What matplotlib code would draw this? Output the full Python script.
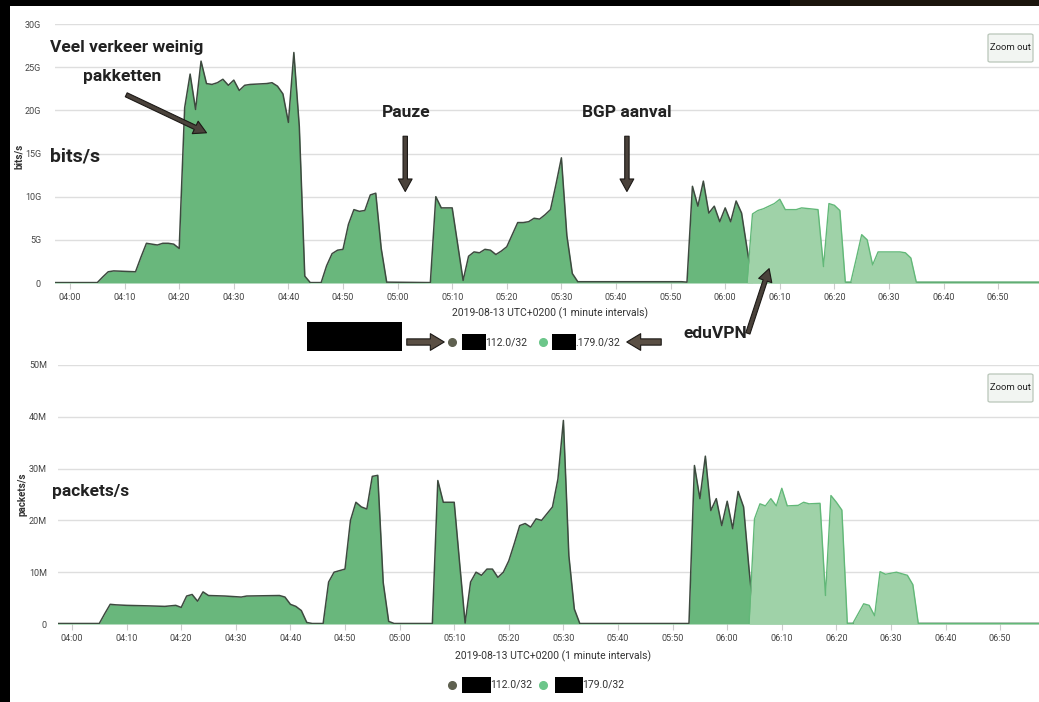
import numpy as np
import matplotlib
matplotlib.use("Agg")
import matplotlib.pyplot as plt
from matplotlib.patches import Rectangle, FancyBboxPatch, FancyArrowPatch
from matplotlib.lines import Line2D

tick_minutes = [0, 10, 20, 30, 40, 50, 60, 70, 80, 90, 100, 110, 120, 130, 140, 150, 160, 170]
tick_labels = ["04:00", "04:10", "04:20", "04:30", "04:40", "04:50", "05:00", "05:10", "05:20",
               "05:30", "05:40", "05:50", "06:00", "06:10", "06:20", "06:30", "06:40", "06:50"]

bits_ticks = [0, 5, 10, 15, 20, 25, 30]
bits_tick_labels = ["0", "5G", "10G", "15G", "20G", "25G", "30G"]
pkt_ticks = [0, 10, 20, 30, 40, 50]
pkt_tick_labels = ["0", "10M", "20M", "30M", "40M", "50M"]

# bits/s (G) - serie x.x.112.0/32
bits_dark_t = [-3, 5, 6, 7, 8, 12, 13, 14, 15, 16, 17, 18, 19, 20, 21, 22, 23, 24, 25, 26, 27,
               28, 29, 30, 31, 32, 33, 36, 37, 38, 39, 40, 41, 42, 43, 44, 46, 47, 48, 49, 50,
               51, 52, 53, 54, 55, 56, 57, 58, 66, 67, 68, 70, 71, 72, 73, 74, 75, 76, 77, 78,
               79, 80, 81, 82, 83, 84, 85, 86, 87, 88, 89, 90, 91, 92, 93, 112, 113, 114, 115,
               116, 117, 118, 119, 120, 121, 122, 123, 124, 125, 180]
bits_dark_v = [0.05, 0.05, 0.7, 1.3, 1.4, 1.3, 3.0, 4.6, 4.5, 4.4, 4.6, 4.6, 4.5, 4.0, 20.3, 24.2,
               20.1, 25.7, 23.1, 23.0, 23.2, 23.6, 22.9, 23.5, 22.3, 22.9, 23.0, 23.1, 23.2,
               22.8, 21.9, 18.6, 26.7, 18.1, 0.8, 0.05, 0.05, 2.0, 3.4, 3.8, 3.9, 6.8, 8.5, 8.3,
               8.4, 10.2, 10.4, 4.0, 0.1, 0.05, 10.0, 8.7, 8.7, 4.5, 0.3, 3.1, 3.6, 3.5, 3.9,
               3.8, 3.3, 3.7, 4.2, 5.6, 7.0, 7.0, 7.1, 7.5, 7.4, 7.9, 8.5, 11.4, 14.5, 5.5, 1.1,
               0.15, 0.15, 0.1, 11.2, 8.9, 11.8, 8.1, 8.9, 7.1, 8.7, 7.1, 9.5, 8.1, 4.0, 0.05, 0.05]

# bits/s (G) - serie x.x.179.0/32 (eduVPN)
bits_light_t = [124, 125, 126, 127, 128, 129, 130, 131, 133, 134, 137, 138, 139, 140, 141, 142,
                143, 144, 145, 146, 147, 148, 152, 153, 154, 155, 180]
bits_light_v = [0.05, 8.0, 8.4, 8.6, 8.9, 9.2, 9.7, 8.5, 8.5, 8.7, 8.5, 1.9, 9.2, 9.0, 8.4, 0.1,
                0.1, 2.8, 5.6, 5.0, 2.1, 3.6, 3.6, 3.5, 2.9, 0.1, 0.1]

# packets/s (M) - serie x.x.112.0/32
pkt_dark_t = [-3, 5, 6, 7, 8, 10, 14, 17, 19, 20, 21, 22, 23, 24, 25, 28, 31, 32, 38, 39, 40,
              41, 42, 43, 44, 46, 47, 48, 49, 50, 51, 52, 53, 54, 55, 56, 57, 58, 59, 66, 67,
              68, 70, 71, 72, 73, 74, 75, 76, 77, 78, 79, 80, 81, 82, 83, 84, 85, 86, 87, 88,
              89, 90, 91, 92, 93, 113, 114, 115, 116, 117, 118, 119, 120, 121, 122, 123, 124,
              125, 180]
pkt_dark_v = [0.1, 0.1, 2.0, 3.8, 3.7, 3.6, 3.5, 3.4, 3.6, 3.2, 5.4, 5.7, 4.4, 6.2, 5.5, 5.4,
              5.2, 5.4, 5.5, 5.2, 3.8, 3.4, 2.6, 0.3, 0.1, 0.1, 8.1, 10.0, 10.3, 10.6, 20.0,
              23.5, 22.6, 22.2, 28.5, 28.7, 8.0, 0.5, 0.1, 0.1, 27.7, 23.5, 23.5, 11.7, 0.2,
              8.1, 10.0, 9.4, 10.6, 10.6, 9.0, 10.0, 12.2, 15.5, 19.0, 19.4, 18.7, 20.3, 20.0,
              21.3, 22.6, 28.0, 39.3, 13.2, 2.9, 0.1, 0.1, 30.6, 24.2, 32.4, 21.9, 24.2, 19.0,
              23.7, 18.4, 25.6, 22.6, 10.6, 0.1, 0.1]

# packets/s (M) - serie x.x.179.0/32 (eduVPN)
pkt_light_t = [124, 125, 126, 127, 128, 129, 130, 131, 133, 134, 135, 137, 138, 139, 140, 141,
               142, 143, 144, 145, 146, 147, 148, 149, 151, 153, 154, 155, 180]
pkt_light_v = [0.1, 20.3, 23.2, 22.8, 24.2, 22.8, 26.2, 22.8, 22.9, 23.5, 23.2, 23.3, 5.5, 24.8,
               23.5, 22.0, 0.1, 0.1, 2.0, 3.9, 3.6, 1.6, 10.1, 9.6, 10.0, 9.4, 7.6, 0.1, 0.1]

W, H = 1039, 702
FONT = ["Roboto", "DejaVu Sans"]
plt.rcParams["font.family"] = FONT

DARK_FILL = "#69b77c"
DARK_LINE = "#3d4a3f"
LIGHT_FILL = "#9fd2a8"
LIGHT_LINE = "#62b878"
ARROW_FC = "#4a423b"
TXT = "#222222"


def fx(px):
    return px / W


def fy(py):
    return 1 - py / H


def draw_chart(ax, dark_t, dark_v, light_t, light_v, yticks, ylabels, ylim, ylabel):
    ax.fill_between(dark_t, dark_v, 0, color=DARK_FILL, lw=0, zorder=2)
    ax.plot(dark_t, dark_v, color=DARK_LINE, lw=1.1, zorder=3)
    ax.fill_between(light_t, light_v, 0, color=LIGHT_FILL, lw=0, zorder=4)
    ax.plot(light_t, light_v, color=LIGHT_LINE, lw=1.0, zorder=5)
    ax.set_ylim(*ylim)
    ax.set_yticks(yticks)
    ax.set_yticklabels(ylabels)
    ax.set_xticks(tick_minutes)
    ax.set_xticklabels(tick_labels)
    ax.grid(axis="y", color="#dedede", lw=1.0, zorder=0)
    for s in ax.spines.values():
        s.set_visible(False)
    ax.tick_params(axis="y", length=0, labelsize=6.5, labelcolor="#444444")
    ax.tick_params(axis="x", length=4, color="#cccccc", labelsize=6.5, labelcolor="#444444", pad=3)
    ax.set_ylabel(ylabel, fontsize=7, fontweight="bold", color="#333333")
    ax.set_facecolor("white")


fig = plt.figure(figsize=(W / 100, H / 100), dpi=100)
fig.patch.set_facecolor("white")

ax1 = fig.add_axes([fx(55), fy(283), 1 - fx(55), (283 - 24) / H])
ax1.set_xlim((55 - 70) / 5.46, (W - 70) / 5.46)
draw_chart(ax1, bits_dark_t, bits_dark_v, bits_light_t, bits_light_v,
           bits_ticks, bits_tick_labels, (0, 30), "bits/s")
ax1.tick_params(axis="y", pad=10)
ax1.yaxis.set_label_coords(-0.031, 0.49)

ax2 = fig.add_axes([fx(58), fy(624), 1 - fx(58), (624 - 365) / H])
ax2.set_xlim((58 - 72) / 5.46, (W - 72) / 5.46)
draw_chart(ax2, pkt_dark_t, pkt_dark_v, pkt_light_t, pkt_light_v,
           pkt_ticks, pkt_tick_labels, (0, 50), "packets/s")
ax2.tick_params(axis="y", pad=8)
ax2.yaxis.set_label_coords(-0.031, 0.5)

xlab = "2019-08-13 UTC+0200 (1 minute intervals)"
fig.text(fx(550), fy(313), xlab, ha="center", va="center", fontsize=7.5, color="#333333")
fig.text(fx(553), fy(656), xlab, ha="center", va="center", fontsize=7.5, color="#333333")

# ---- "Zoom out" knoppen ----
for top in (34, 374):
    fig.add_artist(FancyBboxPatch((fx(988), fy(top + 28)), fx(45), 28 / H,
                                  boxstyle="round,pad=0,rounding_size=0.002",
                                  fc="#f2f5f2", ec="#b9c6b9", lw=0.9, transform=fig.transFigure))
    fig.text(fx(1010.5), fy(top + 14), "Zoom out", ha="center", va="center",
             fontsize=6.8, color="#222222")

# ---- annotaties in de bovenste grafiek ----
big = dict(fontsize=12.5, fontweight="bold", color=TXT)
ax1.text(-3.7, 27.3, "Veel verkeer weinig", ha="left", va="center", clip_on=False, **big)
ax1.text(9.5, 23.9, "pakketten", ha="center", va="center", **big)
ax1.text(-3.7, 14.6, "bits/s", ha="left", va="center", clip_on=False,
         fontsize=14, fontweight="bold", color=TXT)
ax1.text(61.5, 19.8, "Pauze", ha="center", va="center", **big)
ax1.text(102.0, 19.8, "BGP aanval", ha="center", va="center", **big)
ax2.text(-3.7, 25.5, "packets/s", ha="left", va="center", clip_on=False, **big)

arrow_style = "simple,head_width=1.1,head_length=1.0,tail_width=0.35"
for xy, xytext in [((25.0, 17.4), (10.3, 21.8)), ((61.4, 10.6), (61.4, 17.0)),
                   ((102.0, 10.6), (102.0, 17.0))]:
    ax1.annotate("", xy=xy, xytext=xytext, zorder=8,
                 arrowprops=dict(arrowstyle=arrow_style, mutation_scale=9,
                                 fc=ARROW_FC, ec="#1c1916", lw=0.8, shrinkA=0, shrinkB=0))

# ---- legenda boven (met zwarte balken en pijlen) ----
fig.add_artist(Rectangle((fx(307), fy(351)), fx(95), 29 / H, fc="black", ec="none",
                         transform=fig.transFigure))
for (x0, x1) in [(404, 447), (664, 624)]:
    fig.add_artist(FancyArrowPatch((fx(x0), fy(342)), (fx(x1), fy(342)),
                                   arrowstyle="simple,head_width=1.2,head_length=1.0,tail_width=0.45",
                                   mutation_scale=10, fc="#5a4f44", ec="#1c1916", lw=0.8,
                                   transform=fig.transFigure))
fig.text(fx(683), fy(334), "eduVPN", ha="left", va="center", **big)
fig.add_artist(FancyArrowPatch((fx(747), fy(336)), (fx(770), fy(266)),
                               arrowstyle="simple,head_width=1.1,head_length=1.0,tail_width=0.35",
                               mutation_scale=9, fc=ARROW_FC, ec="#1c1916", lw=0.8,
                               transform=fig.transFigure, zorder=8))


def legend_row(py, blob1, text1, blob2, text2):
    fig.add_artist(Line2D([fx(452)], [fy(py)], marker="o", ms=5.5, color="#5f6150",
                          transform=fig.transFigure))
    fig.add_artist(Line2D([fx(543)], [fy(py)], marker="o", ms=5.5, color="#6cc68a",
                          transform=fig.transFigure))
    fig.text(fx(blob1[1] - 1), fy(py), text1, ha="left", va="center", fontsize=7.5, color="#333333")
    fig.text(fx(blob2[1] - 1), fy(py), text2, ha="left", va="center", fontsize=7.5, color="#333333")
    for b in (blob1, blob2):
        fig.add_artist(Rectangle((fx(b[0]), fy(py + 8)), fx(b[1] - b[0]), 16 / H, fc="black",
                                 ec="none", transform=fig.transFigure, zorder=6))


legend_row(342, (462, 486), "112.0/32", (552, 576), ".179.0/32")
legend_row(685, (462, 491), "112.0/32", (555, 583), "179.0/32")

# ---- zwarte randen van de screenshot ----
fig.add_artist(Rectangle((0, fy(6)), 1, 6 / H, fc="black", ec="none", transform=fig.transFigure))
fig.add_artist(Rectangle((fx(790), fy(6)), 1 - fx(790), 6 / H, fc="#1b150d", ec="none",
                         transform=fig.transFigure))
fig.add_artist(Rectangle((0, 0), fx(10), 1, fc="black", ec="none", transform=fig.transFigure))

fig.savefig("out.png", dpi=100, facecolor="white")
